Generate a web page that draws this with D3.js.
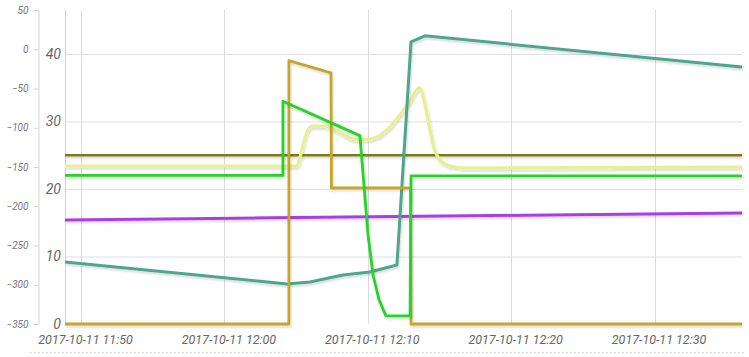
<!DOCTYPE html>
<html>
<head>
<meta charset="utf-8">
<script src="https://cdn.jsdelivr.net/npm/d3@7/dist/d3.min.js"></script>
<style>
  html, body { margin: 0; padding: 0; background: #fff; }
  svg { display: block; }
  text { font-family: Roboto, "Open Sans", sans-serif; font-style: italic; }
</style>
</head>
<body>
<svg id="chart" width="749" height="357"></svg>
<script>
// ---------- DATA ----------
const dateStr = "2017-10-11";
const xTicks = ["11:50:00", "12:00:00", "12:10:00", "12:20:00", "12:30:00"];
const innerTicks = [0, 10, 20, 30, 40];
const outerTicks = [-350, -300, -250, -200, -150, -100, -50, 0, 50];
const xDomain = ["11:48:53", "12:36:06"];

const oliveTimes  = ["11:48:53", "12:36:06"];
const oliveValues = [25.0, 25.0];

const purpleTimes  = ["11:48:53", "12:36:06"];
const purpleValues = [15.4, 16.45];

const yellowTimes  = ["11:48:53","12:05:04","12:05:16","12:05:37","12:06:06","12:07:01","12:07:43","12:08:25","12:09:06","12:09:48","12:10:38","12:11:33","12:12:15","12:12:57","12:13:26","12:13:38","12:13:55","12:14:16","12:14:37","12:15:02","12:15:44","12:16:47","12:36:06"];
const yellowValues = [23.4, 23.4, 24.6, 27.6, 29.3, 29.3, 28.7, 27.9, 27.3, 27.3, 27.7, 29.2, 31.0, 33.0, 34.7, 35.0, 33.2, 29.5, 26.1, 24.3, 23.4, 23.1, 23.25];

const greenTimes  = ["11:48:53","12:04:05","12:04:05","12:09:27","12:09:44","12:10:01","12:10:22","12:10:47","12:11:16","12:12:57","12:13:01","12:36:06"];
const greenValues = [22.0, 22.0, 33.0, 27.9, 20.6, 13.2, 7.3, 3.6, 1.2, 1.2, 21.95, 21.95];

const goldTimes  = ["11:48:53","12:04:30","12:04:30","12:07:26","12:07:28","12:12:59","12:13:01","12:36:06"];
const goldValues = [0, 0, 39.0, 37.2, 20.15, 20.15, 0, 0];

const tealTimes  = ["11:48:53","12:04:22","12:05:58","12:08:16","12:10:09","12:12:02","12:13:01","12:13:59","12:36:06"];
const tealValues = [9.19, 5.93, 6.22, 7.26, 7.70, 8.74, 41.78, 42.67, 38.07];

// ---------- RENDER ----------
const parse = d3.timeParse("%Y-%m-%d %H:%M:%S");
const T = s => parse(dateStr + " " + s);

const svg = d3.select("#chart");
const plot = { left: 65, right: 742, top: 10, bottom: 324 };

const x = d3.scaleTime().domain(xDomain.map(T)).range([plot.left, plot.right]);
const yIn = d3.scaleLinear().domain([0, 46.5]).range([plot.bottom, plot.top]);
const yOut = d3.scaleLinear().domain([-350, 50]).range([plot.bottom, plot.top]);

const defs = svg.append("defs");
const f = defs.append("filter").attr("id", "shadow")
  .attr("filterUnits", "userSpaceOnUse")
  .attr("x", 0).attr("y", 0).attr("width", 749).attr("height", 357);
f.append("feDropShadow").attr("dx", 1).attr("dy", 2).attr("stdDeviation", 1.2)
  .attr("flood-color", "#000").attr("flood-opacity", 0.15);

// grid
const grid = svg.append("g");
grid.selectAll("line.h").data(innerTicks.filter(d => d > 0)).join("line")
  .attr("x1", plot.left).attr("x2", plot.right)
  .attr("y1", d => yIn(d) + 0.5).attr("y2", d => yIn(d) + 0.5)
  .attr("stroke", "#dedde6").attr("stroke-width", 1);
grid.selectAll("line.v").data(xTicks).join("line")
  .attr("x1", d => Math.round(x(T(d))) + 0.5).attr("x2", d => Math.round(x(T(d))) + 0.5)
  .attr("y1", plot.top).attr("y2", plot.bottom)
  .attr("stroke", "#dcdcdc").attr("stroke-width", 1);
grid.append("line")
  .attr("x1", plot.left + 0.5).attr("x2", plot.left + 0.5)
  .attr("y1", plot.top).attr("y2", plot.bottom)
  .attr("stroke", "#d0d0d0");

// outer axis (left)
const outerAxis = svg.append("g").attr("transform", "translate(38.5,0)")
  .call(d3.axisLeft(yOut).tickValues(outerTicks).tickSize(5).tickPadding(5));
outerAxis.select(".domain").attr("stroke", "#d6d6d6");
outerAxis.selectAll(".tick line").attr("stroke", "#d6d6d6");
outerAxis.selectAll("text").attr("fill", "#777").style("font-size", "10px")
  .style("font-family", "Roboto, sans-serif").style("font-style", "italic");

// inner axis
const innerAxis = svg.append("g").attr("transform", `translate(${plot.left},0)`)
  .call(d3.axisLeft(yIn).tickValues(innerTicks).tickSize(0).tickPadding(4));
innerAxis.select(".domain").remove();
innerAxis.selectAll("text").attr("fill", "#666").style("font-size", "14px")
  .style("font-family", "Roboto, sans-serif").style("font-style", "italic");

// x axis labels
const fmt = d3.timeFormat("%Y-%m-%d %H:%M");
const xAxis = svg.append("g").attr("transform", `translate(0,${plot.bottom})`)
  .call(d3.axisBottom(x).tickValues(xTicks.map(T)).tickFormat(fmt).tickSize(0).tickPadding(11));
xAxis.select(".domain").remove();
xAxis.selectAll("text").attr("fill", "#666").attr("dx", 4).style("font-size", "12.5px")
  .style("font-family", "Roboto, sans-serif").style("font-style", "italic");

// dotted bottom line
svg.append("line").attr("x1", 30).attr("x2", 746).attr("y1", 352.5).attr("y2", 352.5)
  .attr("stroke", "#c8c8c8").attr("stroke-dasharray", "1.5,2.5");

// series
function zip(times, values) { return times.map((t, i) => ({ t: T(t), v: values[i] })); }
const series = [
  { name: "purple", times: purpleTimes, values: purpleValues, color: "#a93ee6", w: 3, curve: d3.curveLinear },
  { name: "olive",  times: oliveTimes,  values: oliveValues,  color: "#7c7a1c", w: 2.5, curve: d3.curveLinear },
  { name: "yellow", times: yellowTimes, values: yellowValues, color: "#e6f08e", w: 3.2, curve: d3.curveMonotoneX },
  { name: "teal",   times: tealTimes,   values: tealValues,   color: "#4fa68c", w: 3, curve: d3.curveLinear },
  { name: "gold",   times: goldTimes,   values: goldValues,   color: "#c7a42c", w: 2.8, curve: d3.curveLinear },
  { name: "green",  times: greenTimes,  values: greenValues,  color: "#27d327", w: 2.8, curve: d3.curveLinear }
];
const line = d3.line().x(d => x(d.t)).y(d => yIn(d.v));
svg.append("g").selectAll("path").data(series).join("path")
  .attr("d", s => line.curve(s.curve)(zip(s.times, s.values)))
  .attr("fill", "none")
  .attr("stroke", s => s.color)
  .attr("stroke-width", s => s.w)
  .attr("stroke-linejoin", "round")
  .attr("filter", "url(#shadow)");
</script>
</body>
</html>
